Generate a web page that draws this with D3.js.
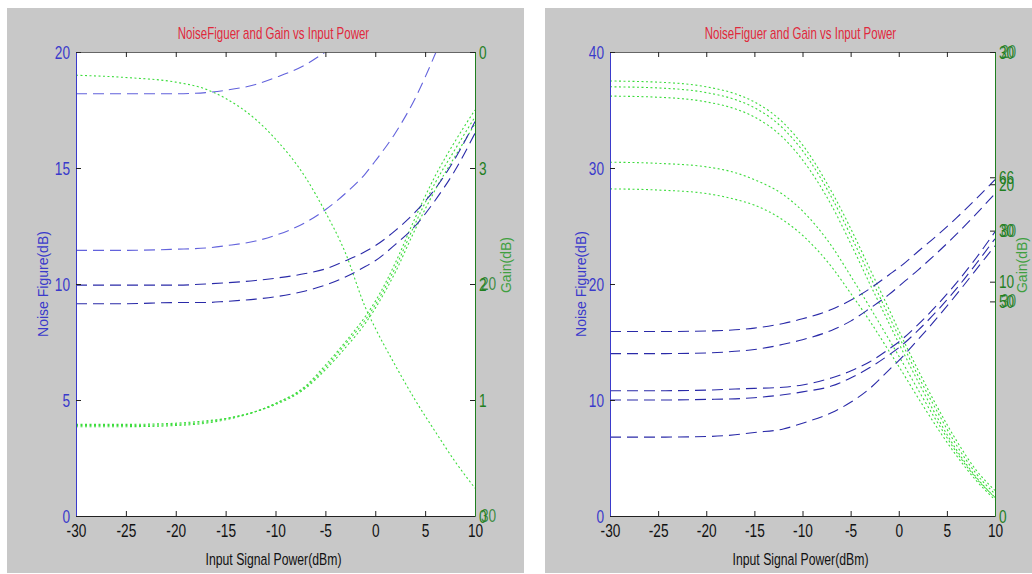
<!DOCTYPE html>
<html>
<head>
<meta charset="utf-8">
<script src="https://cdn.jsdelivr.net/npm/d3@7"></script>
<style>
  body { margin: 0; background: #fff; }
  text { font-family: "Liberation Sans", Arial, sans-serif; }
</style>
</head>
<body>
<div id="chart"></div>
<script>
// x values shared by every curve (dBm)
var inputPower = [-30, -25, -20, -17, -15, -12, -10, -7, -5, -3, -1, 0, 2, 4, 6, 8, 10];

// left figure: noise figure (dB)
var nfLeft1 = [18.2, 18.2, 18.2, 18.25, 18.35, 18.6, 18.9, 19.45, 20.0, 20.6, 21.3, 21.7, 22.5, 23.4, 24.4, 25.5, 26.6];
var nfLeft2 = [11.45, 11.45, 11.5, 11.55, 11.65, 11.85, 12.1, 12.65, 13.2, 13.9, 14.75, 15.3, 16.5, 18.0, 19.9, 22.0, 24.0];
var nfLeft3 = [9.95, 9.95, 9.95, 10.0, 10.05, 10.15, 10.25, 10.45, 10.65, 11.0, 11.4, 11.65, 12.3, 13.1, 14.1, 15.4, 17.0];
var nfLeft4 = [9.15, 9.15, 9.2, 9.2, 9.25, 9.35, 9.45, 9.7, 9.95, 10.3, 10.75, 11.0, 11.7, 12.5, 13.6, 14.9, 16.5];

// left figure: gain
var gainLeft1 = [3.8, 3.78, 3.74, 3.68, 3.6, 3.42, 3.25, 2.92, 2.62, 2.27, 1.8, 1.62, 1.3, 1.0, 0.73, 0.47, 0.24];
var gainLeft2 = [0.77, 0.77, 0.78, 0.8, 0.83, 0.9, 0.97, 1.12, 1.3, 1.5, 1.72, 1.85, 2.18, 2.57, 2.93, 3.23, 3.5];
var gainLeft3 = [0.78, 0.78, 0.79, 0.81, 0.84, 0.9, 0.97, 1.11, 1.28, 1.48, 1.69, 1.82, 2.14, 2.52, 2.87, 3.16, 3.44];
var gainLeft4 = [0.79, 0.79, 0.8, 0.82, 0.84, 0.9, 0.96, 1.1, 1.26, 1.45, 1.66, 1.79, 2.1, 2.47, 2.81, 3.1, 3.38];

// right figure: noise figure (dB)
var nfRight1 = [15.9, 15.9, 15.95, 16.05, 16.2, 16.6, 17.0, 17.8, 18.6, 19.6, 20.8, 21.4, 22.8, 24.2, 25.7, 27.3, 29.0];
var nfRight2 = [14.0, 14.0, 14.05, 14.2, 14.35, 14.8, 15.2, 16.0, 16.8, 17.9, 19.1, 19.8, 21.2, 22.7, 24.3, 26.0, 27.8];
var nfRight3 = [10.8, 10.8, 10.85, 10.95, 11.0, 11.1, 11.3, 11.9, 12.5, 13.3, 14.4, 15.0, 16.5, 18.2, 20.1, 22.2, 24.5];
var nfRight4 = [10.0, 10.0, 10.05, 10.1, 10.2, 10.45, 10.7, 11.2, 11.9, 12.8, 13.9, 14.5, 16.0, 17.7, 19.6, 21.7, 23.9];
var nfRight5 = [6.8, 6.8, 6.85, 7.0, 7.2, 7.5, 8.0, 8.9, 9.8, 11.0, 12.6, 13.4, 15.2, 17.1, 19.1, 21.2, 23.3];

// right figure: gain
var gainRight1 = [37.5, 37.4, 37.0, 36.4, 35.7, 33.9, 32.0, 28.0, 24.8, 21.3, 17.8, 16.0, 12.6, 9.4, 6.5, 4.0, 2.2];
var gainRight2 = [37.0, 36.9, 36.5, 35.9, 35.2, 33.4, 31.5, 27.5, 24.2, 20.7, 17.2, 15.5, 12.1, 9.0, 6.1, 3.7, 1.9];
var gainRight3 = [36.2, 36.1, 35.7, 35.1, 34.4, 32.6, 30.7, 26.8, 23.5, 20.0, 16.6, 14.9, 11.6, 8.5, 5.7, 3.4, 1.6];
var gainRight4 = [30.5, 30.4, 30.1, 29.6, 29.0, 27.7, 26.3, 23.3, 20.7, 18.0, 15.2, 13.8, 10.9, 8.1, 5.5, 3.3, 1.6];
var gainRight5 = [28.2, 28.1, 27.8, 27.3, 26.8, 25.5, 24.2, 21.5, 19.2, 16.8, 14.2, 12.9, 10.2, 7.6, 5.2, 3.1, 1.4];

// ticks and labels
var xTicks = [-30, -25, -20, -15, -10, -5, 0, 5, 10];
var nfTicksLeft = [0, 5, 10, 15, 20];
var nfTicksRight = [0, 10, 20, 30, 40];
// the gain side is several overlapping axes in the original, so labels pile on top of each other
var gainTicksLeft = [0, 1, 2, 3, 4];
var gainLabelsLeft = ["0", "1", "2", "3", "0"];
var gainOverTicksLeft = [0, 2];
var gainOverLabelsLeft = ["30", "20"];
var gainTicksRight = [0, 18.5, 20.2, 24.6, 28.6, 29.2, 40];
var gainLabelsRight = ["0", "50", "10", "30", "20", "66", "30"];
var gainOverTicksRight = [18.5, 24.6, 40];
var gainOverLabelsRight = ["30", "80", "20"];

var titleText = "NoiseFiguer and Gain vs Input Power";
var xLabelText = "Input Signal Power(dBm)";

var blueDark = "#2a2aa8", blueLight = "#6262dc", green = "#3ddc3d";
var axisBlue = "#3a3acb", axisGreen = "#1f7f1f", labelGreen = "#3f9f3f";
var narrow = 0.72;

var svg = d3.select("#chart")
    .append("svg")
    .attr("width", 1032)
    .attr("height", 574);

var panels = [
    {
        bg: {x: 7, y: 8, w: 517, h: 565},
        plot: {left: 76, top: 52, width: 399, height: 464},
        nfDomain: [0, 20], nfTicks: nfTicksLeft,
        gainDomain: [0, 4],
        gainTicks: gainTicksLeft, gainLabels: gainLabelsLeft,
        overTicks: gainOverTicksLeft, overLabels: gainOverLabelsLeft,
        nf: [{v: nfLeft1, c: blueLight}, {v: nfLeft2, c: blueLight}, {v: nfLeft3, c: blueDark}, {v: nfLeft4, c: blueDark}],
        gain: [gainLeft1, gainLeft2, gainLeft3, gainLeft4],
        nfLabelX: 43, gainLabelX: 506
    },
    {
        bg: {x: 545, y: 8, w: 487, h: 565},
        plot: {left: 610, top: 52, width: 385, height: 464},
        nfDomain: [0, 40], nfTicks: nfTicksRight,
        gainDomain: [0, 40],
        gainTicks: gainTicksRight, gainLabels: gainLabelsRight,
        overTicks: gainOverTicksRight, overLabels: gainOverLabelsRight,
        nf: [{v: nfRight1, c: blueDark}, {v: nfRight2, c: blueDark}, {v: nfRight3, c: blueDark}, {v: nfRight4, c: blueDark}, {v: nfRight5, c: blueDark}],
        gain: [gainRight1, gainRight2, gainRight3, gainRight4, gainRight5],
        nfLabelX: 581, gainLabelX: 1022
    }
];

// plain hyphen for negatives, as in the original
var plainFormat = function(d) { return String(d); };

panels.forEach(function(p, i) {
    var w = p.plot.width, h = p.plot.height;

    // gray figure background
    svg.append("rect")
        .attr("x", p.bg.x).attr("y", p.bg.y)
        .attr("width", p.bg.w).attr("height", p.bg.h)
        .attr("fill", "#c8c8c8");

    var g = svg.append("g")
        .attr("transform", `translate(${p.plot.left}, ${p.plot.top})`);

    g.append("rect").attr("width", w).attr("height", h).attr("fill", "#fff");

    var xScale = d3.scaleLinear().domain([-30, 10]).range([0, w]);
    var nfScale = d3.scaleLinear().domain(p.nfDomain).range([h, 0]);
    var gainScale = d3.scaleLinear().domain(p.gainDomain).range([h, 0]);

    // clip curves to the plot box
    svg.append("clipPath").attr("id", "clip" + i)
        .append("rect").attr("width", w).attr("height", h);
    var curves = g.append("g").attr("clip-path", `url(#clip${i})`);

    var nfLine = d3.line()
        .x(function(d, k) { return xScale(inputPower[k]); })
        .y(function(d) { return nfScale(d); })
        .curve(d3.curveMonotoneX);
    var gainLine = d3.line()
        .x(function(d, k) { return xScale(inputPower[k]); })
        .y(function(d) { return gainScale(d); })
        .curve(d3.curveMonotoneX);

    p.gain.forEach(function(s) {
        curves.append("path")
            .attr("d", gainLine(s))
            .attr("fill", "none")
            .attr("stroke", green)
            .attr("stroke-width", 1.1)
            .attr("stroke-dasharray", "2,2.5");
    });
    p.nf.forEach(function(s) {
        curves.append("path")
            .attr("d", nfLine(s.v))
            .attr("fill", "none")
            .attr("stroke", s.c)
            .attr("stroke-width", 1.1)
            .attr("stroke-dasharray", "11,6");
    });

    // axes, ticks pointing inward like matlab
    var bottom = g.append("g")
        .attr("transform", `translate(0, ${h})`)
        .call(d3.axisBottom(xScale).tickValues(xTicks).tickFormat(plainFormat)
            .tickSize(-5).tickSizeOuter(0).tickPadding(8));
    bottom.select(".domain").attr("stroke", "#222");
    bottom.selectAll(".tick line").attr("stroke", "#222");
    bottom.selectAll("text")
        .attr("fill", "#111")
        .style("font-size", "19px")
        .attr("transform", `scale(${narrow},1)`);

    var top = g.append("g")
        .call(d3.axisTop(xScale).tickValues(xTicks).tickSize(-5).tickSizeOuter(0).tickFormat(""));
    top.select(".domain").attr("stroke", "#666");
    top.selectAll(".tick line").attr("stroke", "#222");

    var left = g.append("g")
        .call(d3.axisLeft(nfScale).tickValues(p.nfTicks).tickFormat(plainFormat)
            .tickSize(-5).tickSizeOuter(0).tickPadding(6));
    left.select(".domain").attr("stroke", axisBlue);
    left.selectAll(".tick line").attr("stroke", "#222");
    left.selectAll("text")
        .attr("fill", axisBlue)
        .style("font-size", "19px")
        .attr("x", -6 / narrow)
        .attr("transform", `scale(${narrow},1)`);

    var right = g.append("g")
        .attr("transform", `translate(${w}, 0)`)
        .call(d3.axisRight(gainScale).tickValues(p.gainTicks).tickSize(-5).tickSizeOuter(0).tickPadding(4)
            .tickFormat(function(d, k) { return p.gainLabels[k]; }));
    right.select(".domain").attr("stroke", axisGreen);
    right.selectAll(".tick line").attr("stroke", "#222");
    right.selectAll("text")
        .attr("fill", axisGreen)
        .style("font-size", "19px")
        .attr("x", 4 / narrow)
        .attr("transform", `scale(${narrow},1)`);

    right.selectAll(".over")
        .data(p.overTicks)
        .enter()
        .append("text")
        .attr("class", "over")
        .attr("transform", function(d) { return `translate(0, ${gainScale(d)}) scale(${narrow},1)`; })
        .attr("x", 6 / narrow)
        .attr("dy", "0.32em")
        .attr("fill", axisGreen)
        .attr("fill-opacity", 0.85)
        .style("font-size", "19px")
        .text(function(d, k) { return p.overLabels[k]; });

    // title and axis labels
    var cx = p.plot.left + w / 2 - 2;
    svg.append("text")
        .attr("transform", `translate(${cx}, 39) scale(${narrow},1)`)
        .attr("text-anchor", "middle")
        .attr("fill", "#e0283c")
        .style("font-size", "16px")
        .text(titleText);

    svg.append("text")
        .attr("transform", `translate(${cx}, 565) scale(${narrow},1)`)
        .attr("text-anchor", "middle")
        .attr("fill", "#111")
        .style("font-size", "17px")
        .text(xLabelText);

    svg.append("text")
        .attr("transform", `translate(${p.nfLabelX + 5}, 284) rotate(-90)`)
        .attr("text-anchor", "middle")
        .attr("fill", axisBlue)
        .style("font-size", "14px")
        .text("Noise Figure(dB)");

    svg.append("text")
        .attr("transform", `translate(${p.gainLabelX + 5}, 265) rotate(-90)`)
        .attr("text-anchor", "middle")
        .attr("fill", labelGreen)
        .style("font-size", "14px")
        .text("Gain(dB)");
});
</script>
</body>
</html>
